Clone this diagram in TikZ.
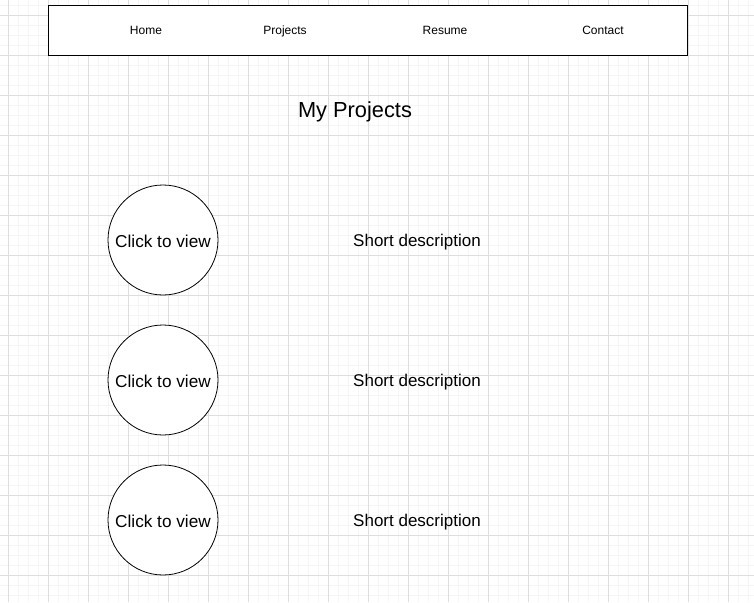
\documentclass[tikz,border=0pt]{standalone}
\usepackage{fontspec}
\setmainfont{Liberation Sans}
\begin{document}
\begin{tikzpicture}[x=1pt,y=-1pt,
  minorgrid/.style={draw=black!4,line width=0.8pt},
  majorgrid/.style={draw=black!13,line width=0.8pt},
  navbar/.style={draw=black,line width=0.9pt,fill=white},
  label/.style={anchor=base,inner sep=0pt},
  navlink/.style={label,font=\fontsize{12}{14}\selectfont},
  title/.style={label,font=\fontsize{21.8}{24}\selectfont},
  thumb/.style={circle,draw=black,line width=0.8pt,fill=white,minimum size=110pt,inner sep=0pt,text height=15.5pt,text depth=0pt,font=\fontsize{17.2}{19}\selectfont},
  desc/.style={label,font=\fontsize{17}{19}\selectfont}]
  \useasboundingbox[fill=white] (0,0) rectangle (754,602);
  % background grid
  \foreach \x in {-2,8,...,754} \draw[minorgrid] (\x,0) -- (\x,602);
  \foreach \y in {5,15,...,602} \draw[minorgrid] (0,\y) -- (754,\y);
  \foreach \x in {8,48,...,754} \draw[majorgrid] (\x,0) -- (\x,602);
  \foreach \y in {15,55,...,602} \draw[majorgrid] (0,\y) -- (754,\y);
  % navigation bar
  \draw[navbar] (48,5) rectangle (687,55);
  \node[navlink] (home) at (146,34.5) {Home};
  \node[navlink] (projects) at (285,34.5) {Projects};
  \node[navlink] (resume) at (445,34.5) {Resume};
  \node[navlink] (contact) at (603,34.5) {Contact};
  % heading
  \node[title] (heading) at (355,117) {My Projects};
  % project rows
  \node[thumb] (p1) at (163,240) {Click to view};
  \node[thumb] (p2) at (163,380) {Click to view};
  \node[thumb] (p3) at (163,520) {Click to view};
  \node[desc] (d1) at (417,246.5) {Short description};
  \node[desc] (d2) at (417,386.5) {Short description};
  \node[desc] (d3) at (417,526.5) {Short description};
\end{tikzpicture}
\end{document}
